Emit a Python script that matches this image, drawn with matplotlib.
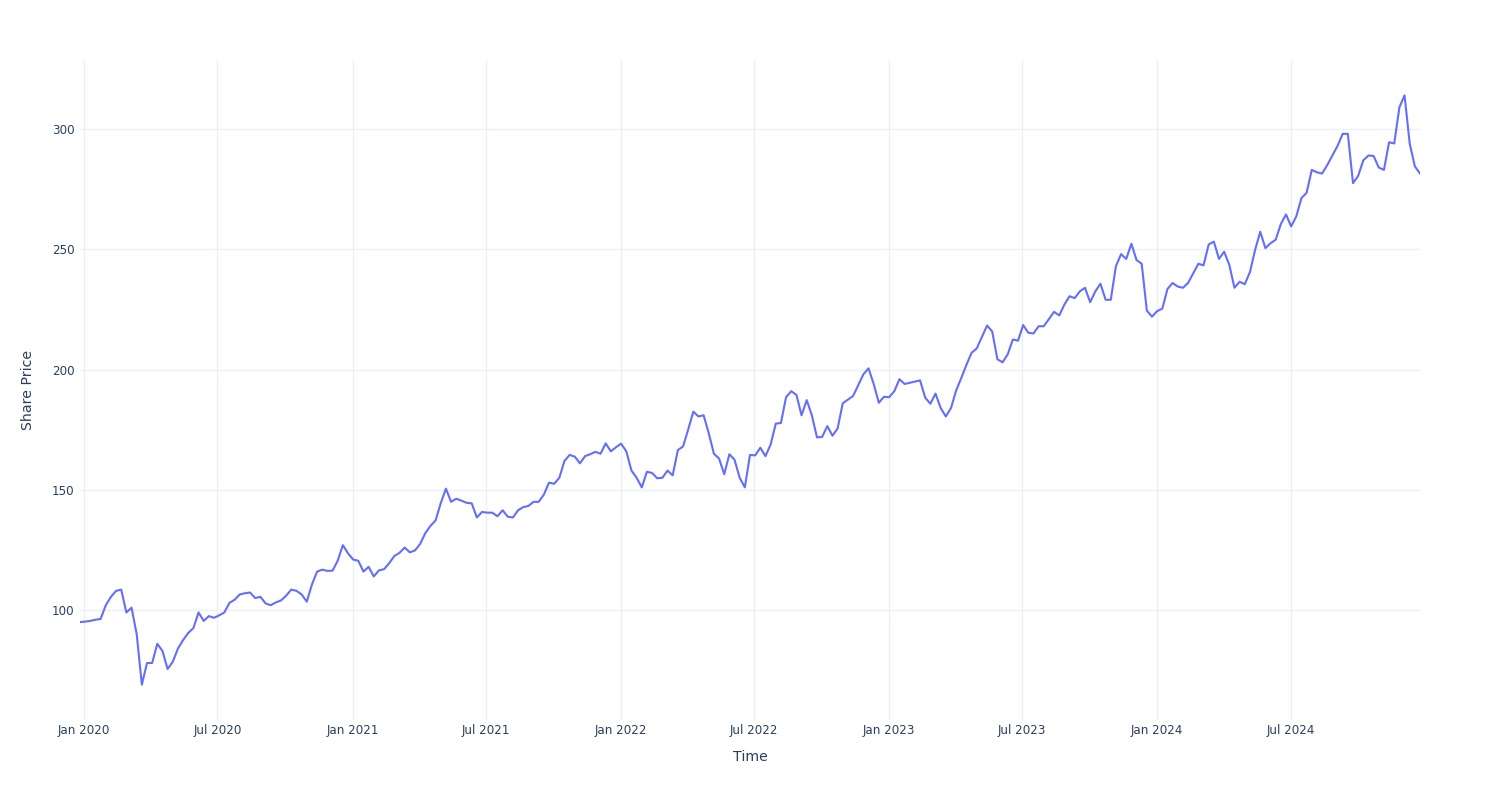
import pandas as pd
import matplotlib
matplotlib.use('Agg')
import matplotlib.pyplot as plt
import matplotlib.dates as mdates

# weekly closes
prices = [
    95.0, 95.2, 95.5, 96.0, 96.3, 102.0, 105.5, 108.0, 108.5, 99.0,
    101.0, 90.0, 69.0, 78.0, 78.0, 86.0, 83.0, 75.5, 78.5, 84.0,
    87.5, 90.5, 92.5, 99.0, 95.5, 97.5, 96.8, 97.8, 99.0, 103.0,
    104.3, 106.5, 107.0, 107.3, 105.0, 105.5, 102.8, 102.0, 103.2, 104.0,
    106.0, 108.5, 108.0, 106.5, 103.5, 110.6, 116.0, 116.8, 116.3, 116.4,
    120.5, 127.0, 123.6, 121.0, 120.5, 116.0, 118.0, 114.0, 116.5, 117.0,
    119.5, 122.5, 123.8, 126.0, 124.0, 124.8, 127.5, 132.0, 135.0, 137.3,
    144.5, 150.5, 145.0, 146.3, 145.5, 144.6, 144.4, 138.5, 140.8, 140.5,
    140.5, 139.0, 141.5, 138.8, 138.5, 141.5, 142.8, 143.3, 145.0, 145.0,
    148.0, 153.0, 152.5, 155.0, 162.0, 164.5, 163.8, 161.0, 164.0, 164.8,
    165.8, 165.0, 169.3, 166.0, 167.7, 169.2, 166.0, 158.0, 155.0, 151.0,
    157.5, 157.0, 154.8, 155.0, 158.0, 156.0, 166.5, 168.0, 175.0, 182.5,
    180.5, 181.0, 173.5, 165.0, 163.0, 156.5, 164.8, 162.5, 155.0, 151.0,
    164.5, 164.3, 167.5, 164.0, 168.8, 177.5, 177.8, 188.5, 191.0, 189.5,
    181.0, 187.3, 181.0, 171.8, 172.0, 176.5, 172.5, 175.5, 186.0, 187.5,
    189.0, 193.5, 198.0, 200.5, 194.0, 186.2, 188.7, 188.5, 191.0, 196.0,
    194.0, 194.5, 195.0, 195.5, 188.3, 185.8, 190.0, 184.0, 180.5, 184.0,
    191.3, 196.5, 202.0, 207.0, 208.8, 213.5, 218.3, 215.8, 204.3, 203.0,
    206.3, 212.5, 212.0, 218.5, 215.3, 215.0, 218.0, 218.0, 221.0, 224.0,
    222.5, 227.0, 230.5, 229.7, 232.5, 234.0, 228.0, 232.5, 235.7, 229.0,
    229.0, 243.0, 248.0, 246.0, 252.3, 245.5, 244.0, 224.5, 222.0, 224.3,
    225.3, 233.5, 236.0, 234.5, 234.0, 236.0, 240.0, 244.0, 243.3, 252.0,
    253.2, 246.0, 249.0, 243.5, 234.0, 236.5, 235.5, 240.5, 249.7, 257.3,
    250.5, 252.5, 254.0, 260.5, 264.5, 259.5, 263.7, 271.3, 273.5, 283.0,
    282.0, 281.5, 285.0, 289.0, 293.0, 298.0, 298.0, 277.5, 280.5, 287.0,
    289.0, 288.8, 284.0, 283.0, 294.5, 294.0, 309.0, 314.0, 294.0, 284.5,
    281.5,
]
dates = pd.date_range('2019-12-27', '2024-12-24', periods=len(prices))

y_ticks = [100, 150, 200, 250, 300]
x_ticks = pd.date_range('2020-01-01', '2024-07-01', freq='6MS')

text_color = '#2a3f5f'
grid_color = '#EBF0F8'

plt.rcParams['font.family'] = ['DejaVu Sans']

fig = plt.figure(figsize=(15, 8), dpi=100)
ax = fig.add_axes([80 / 1500, 0.1, 1340 / 1500, 0.825])

ax.plot(dates, prices, color='#636EFA', linewidth=1.5, zorder=3)

ax.set_xlim(dates[0], dates[-1])
ax.set_ylim(54.3, 328.7)
ax.set_yticks(y_ticks)
ax.set_xticks(x_ticks)
ax.xaxis.set_major_formatter(mdates.DateFormatter('%b %Y'))

ax.grid(True, color=grid_color, linewidth=1, zorder=0)
for s in ax.spines.values():
    s.set_visible(False)
ax.tick_params(axis='both', length=0, labelsize=8.6, labelcolor=text_color)
ax.tick_params(axis='x', pad=3)
ax.tick_params(axis='y', pad=4)

ax.set_xlabel('Time', fontsize=10.2, color=text_color, labelpad=9)
ax.set_ylabel('Share Price', fontsize=10.2, color=text_color, labelpad=12)

fig.savefig('out.png', dpi=100, facecolor='white')
